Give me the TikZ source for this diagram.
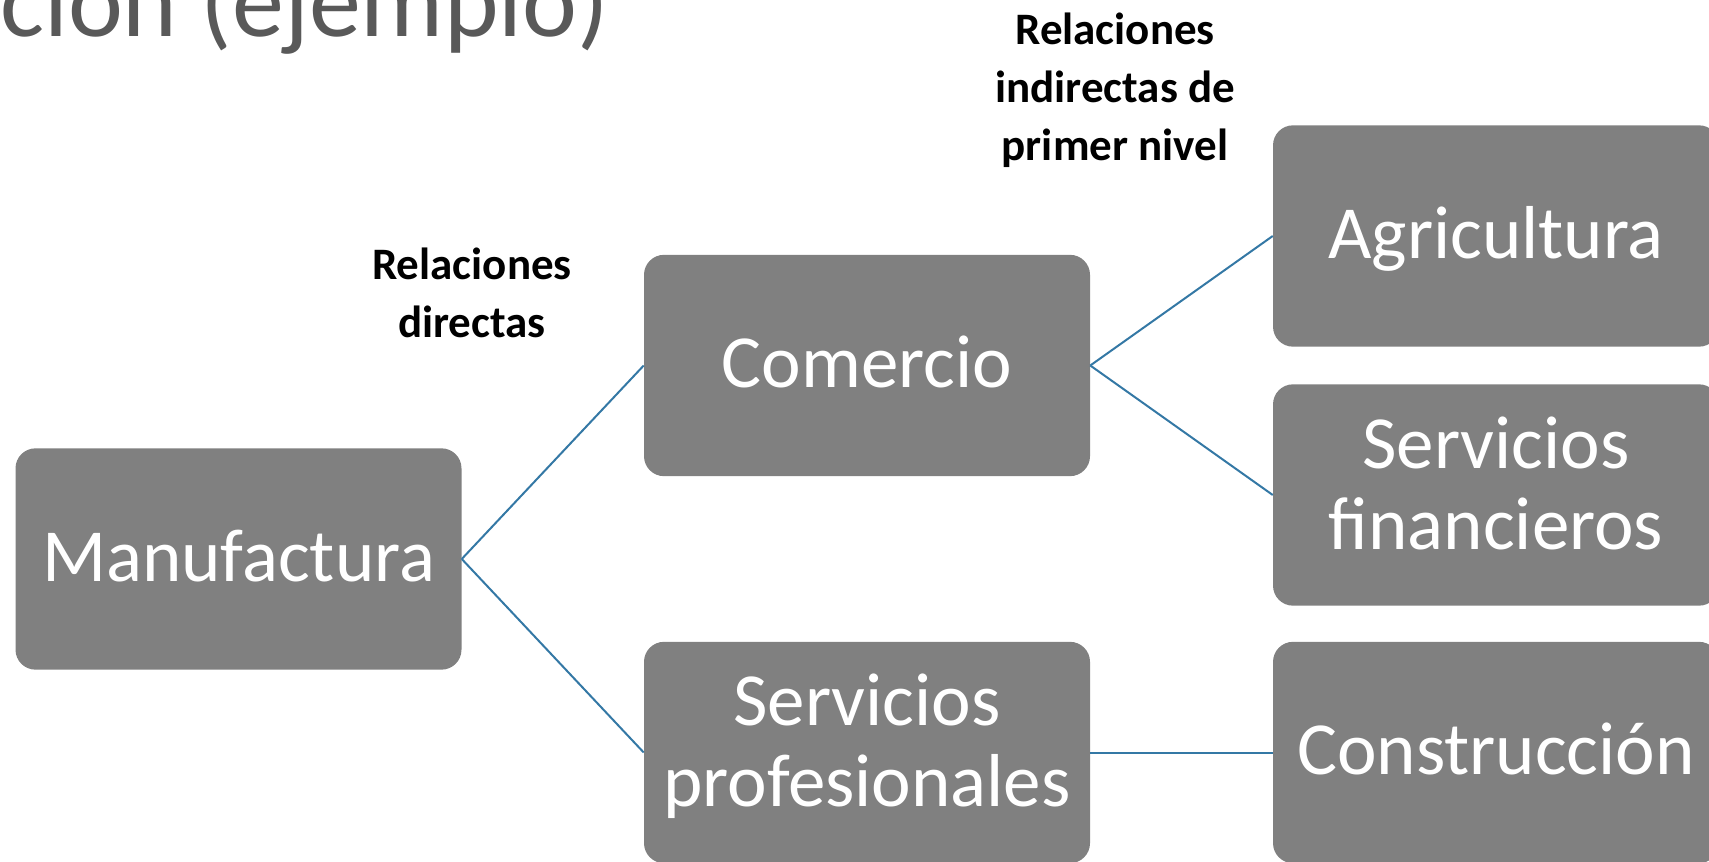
\documentclass[tikz,border=0pt]{standalone}
\usepackage{fontspec}
\setmainfont{Carlito}
\usepackage{tikz}
\definecolor{boxgray}{RGB}{128,128,128}
\definecolor{linkblue}{RGB}{52,120,165}
\definecolor{titlegray}{RGB}{89,89,89}
\newcommand\tallstrut{\rule[-18pt]{0pt}{69.5pt}}

\begin{document}
\begin{tikzpicture}[x=0.75pt,y=-0.75pt,node distance=194.25pt,
	sector/.style={rectangle,rounded corners=15pt,fill=boxgray,text=white,align=center,
		minimum width=334.5pt,minimum height=166pt,inner sep=0pt,
		font=\fontsize{56.25}{60.75}\selectfont,
		execute at begin node=\tallstrut,execute at end node=\strut},
	tag/.style={align=center,inner sep=0pt,font=\bfseries\fontsize{33.75}{43.5}\selectfont},
	link/.style={draw=linkblue,line width=1.5pt}]
			
			\useasboundingbox (0,0) rectangle (1709,862);
			\clip (0,0) rectangle (1709,862);
			
			\node[anchor=base west,inner sep=0pt,text=titlegray,font=\fontsize{78}{90}\selectfont] (title) at (0,37) {ción (ejemplo)};
			
			\node[sector] (manuf) at (238.5,559) {Manufactura};
			\node[sector] (comercio) at (867,365.5) {Comercio};
			\node[sector, below of = comercio, node distance=290.25pt] (prof) {Servicios\\profesionales};
			\node[sector] (agri) at (1496,236) {Agricultura};
			\node[sector, below of = agri] (finan) {Servicios\\financieros};
			\node[sector, right of = prof, node distance=471.75pt] (constr) {Construcción};
			
			\node[tag] (direct) at (472,293) {Relaciones\\directas};
			\node[tag] (indirect) at (1115,90) {Relaciones\\indirectas de\\primer nivel};
			
			\path[link]
			(manuf.east) edge (comercio.west)
				edge (prof.west)
			(comercio.east) edge (agri.west)
				edge (finan.west)
			(prof.east) edge (constr.west)
			;
			\end{tikzpicture}
\end{document}
